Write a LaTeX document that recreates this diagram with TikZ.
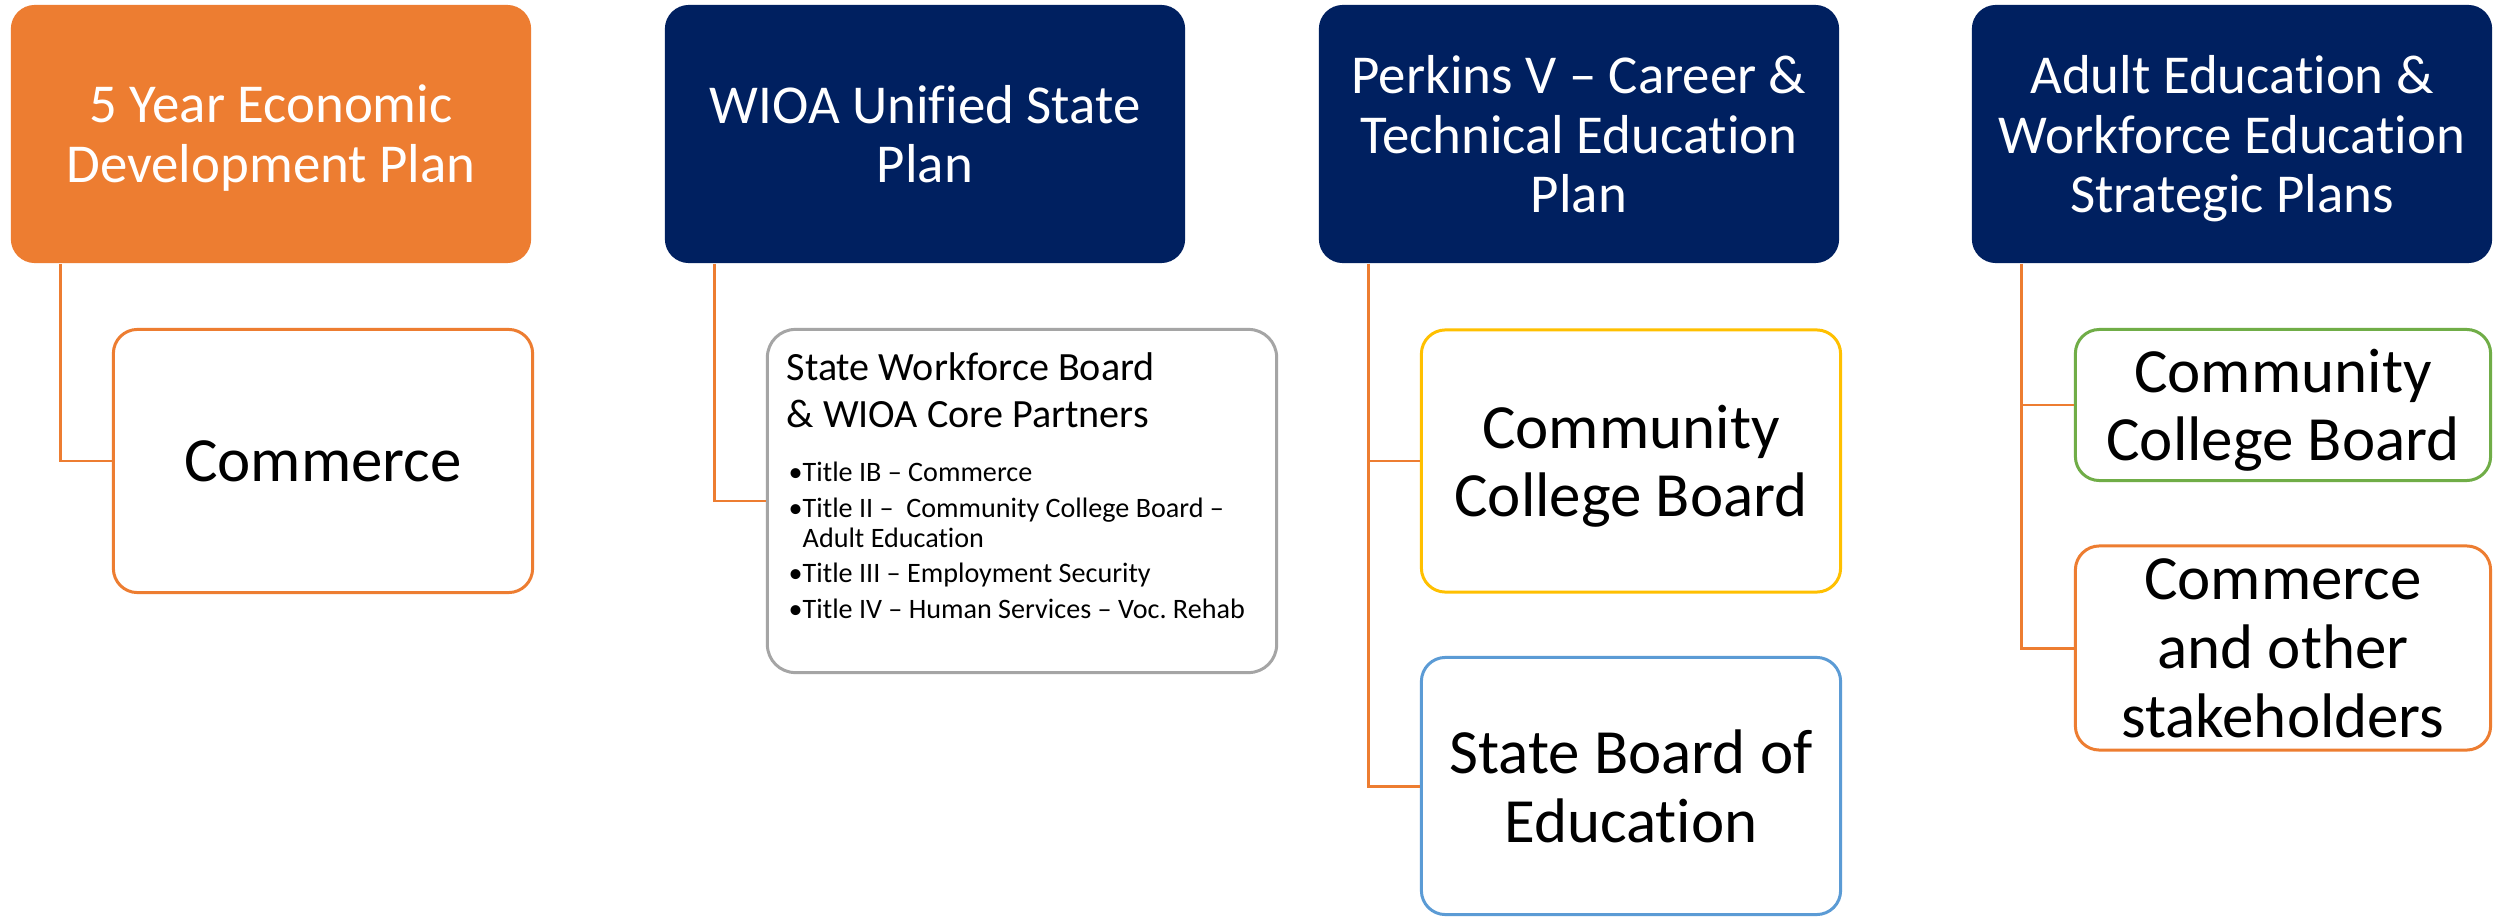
\documentclass[tikz,border=0pt]{standalone}
\usepackage{fontspec}
\setmainfont{Carlito}[Ligatures={TeX,NoCommon,NoContextual},RawFeature={-calt}]
\usepackage{tikz}
\definecolor{plannavy}{HTML}{002060}
\definecolor{planorange}{HTML}{ED7D31}
\definecolor{boardgold}{HTML}{FFC000}
\definecolor{boardblue}{HTML}{5B9BD5}
\definecolor{boardgreen}{HTML}{70AD47}
\definecolor{boardgray}{HTML}{A5A5A5}
\frenchspacing

\begin{document}
\begin{tikzpicture}[
    x=0.01cm, y=-0.01cm,
    plan/.style={fill=plannavy, text=white, rounded corners=0.24cm,
      minimum width=5.2cm, minimum height=2.58cm, inner sep=0pt,
      text depth=0pt, align=center, font=\fontsize{15.6}{17}\selectfont},
    agency/.style={draw=#1, fill=white, line width=0.85pt, rounded corners=0.24cm,
      minimum width=4.19cm, inner sep=0pt, text depth=0pt,
      align=center, font=\fontsize{17.9}{19.5}\selectfont},
    link/.style={draw=planorange, line width=0.85pt}]
    \path[fill=white] (0,0) rectangle (2493,918);
    \node[plan, fill=planorange] (econ) at (271,134) {5 Year Economic\\Development Plan};
    \node[plan] (wioa) at (925,134) {WIOA Unified State\\Plan};
    \node[plan] (perkins) at (1579,134) {Perkins V -- Career \&\\Technical Education\\Plan};
    \node[plan] (adulted) at (2232,134) {Adult Education \&\\Workforce Education\\Strategic Plans};

    \node[agency=planorange, minimum height=2.63cm] (commerce) at (323,461) {Commerce};
    \node[agency=boardgray, rounded corners=0.28cm, minimum width=5.09cm,
      minimum height=3.43cm] (swb) at (1022,501) {};
    \node[anchor=north west, inner sep=0pt, align=left,
      font=\fontsize{11.4}{13.4}\selectfont] (swbhead) at (786,352)
      {State Workforce Board\\ \& WIOA Core Partners};
    \node[anchor=north west, inner sep=0pt, align=left,
      font=\fontsize{8}{8.5}\selectfont] (swblist) at (788,461)
      {\textbullet Title IB -- Commerce\\[1.7pt]
       \textbullet Title II -- ~Community College Board --\\
       \phantom{\textbullet}Adult Education\\[1.7pt]
       \textbullet Title III -- Employment Security\\[1.7pt]
       \textbullet Title IV -- Human Services -- Voc. Rehab};
    \node[agency=boardgold, minimum height=2.62cm] (ccb) at (1631,461) {Community\\College Board};
    \node[agency=boardblue, minimum height=2.57cm] (sbe) at (1631,786) {State Board of\\Education};
    \node[agency=boardgreen, minimum width=4.15cm, minimum height=1.51cm] (ccbb) at (2283,405)
      {Community\\College Board};
    \node[agency=planorange, minimum width=4.15cm, minimum height=2.04cm] (stake) at (2283,648)
      {Commerce\\and other\\stakeholders};

    \draw[link] ([xshift=0.5cm]econ.south west) |- (commerce.west);
    \draw[link] ([xshift=0.5cm]wioa.south west) |- (swb.west);
    \draw[link] ([xshift=0.5cm]perkins.south west) |- (ccb.west);
    \draw[link] ([xshift=0.5cm]perkins.south west) |- (sbe.west);
    \draw[link] ([xshift=0.5cm]adulted.south west) |- (ccbb.west);
    \draw[link] ([xshift=0.5cm]adulted.south west) |- (stake.west);
\end{tikzpicture}
\end{document}
